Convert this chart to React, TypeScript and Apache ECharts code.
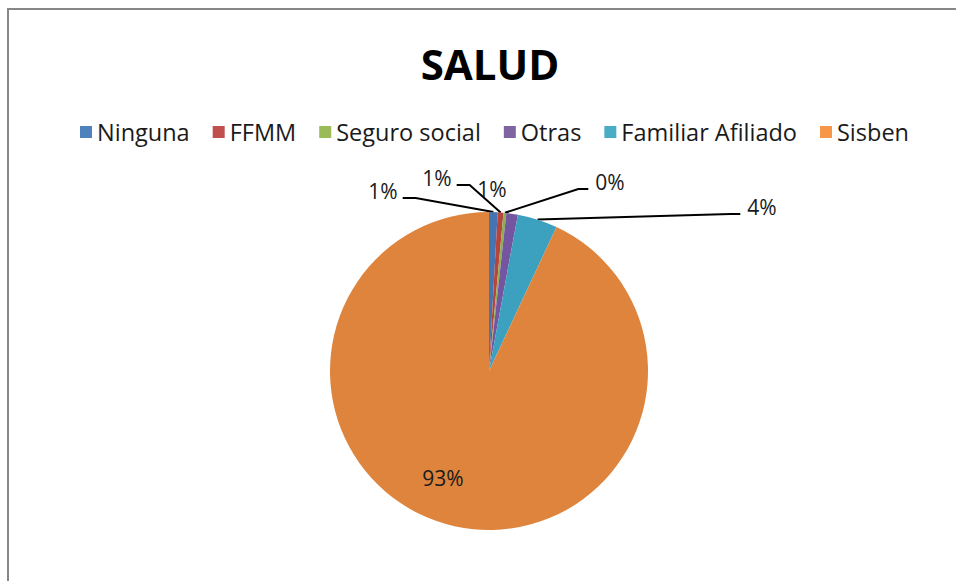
import React, { useEffect, useRef } from "react";
import * as echarts from "echarts";

const categories = ["Ninguna", "FFMM", "Seguro social", "Otras", "Familiar Afiliado", "Sisben"];
const counts = [3, 2, 1, 4, 14, 320];
const sliceColors = ["#4674B0", "#B4463F", "#8DB04C", "#7455A0", "#3CA0BF", "#DE843D"];
const legendColors = ["#4F81BD", "#C0504D", "#9BBB59", "#8064A2", "#4BACC6", "#F79646"];
const titleText = "SALUD";

// label placement (layout only)
const LABEL_POS: number[][] = [
  [383, 191],
  [437, 178],
  [610, 182],
  [492, 189],
  [762, 207],
  [443, 478],
];
const SHOW_LEADER = [true, true, true, false, true, false];

const FONT = '"Open Sans", "Noto Sans", sans-serif';

export default function App() {
  const ref = useRef<HTMLDivElement>(null);
  useEffect(() => {
    if (!ref.current) return;
    const chart = echarts.init(ref.current, undefined, { renderer: "svg" });
    const data = categories.map((name, i) => ({
      name,
      value: counts[i],
      itemStyle: { color: sliceColors[i] },
      labelLine: { show: SHOW_LEADER[i] },
    }));
    chart.setOption({
      animation: false,
      backgroundColor: "#ffffff",
      graphic: [
        {
          type: "line",
          shape: { x1: 8, y1: 9, x2: 956, y2: 9 },
          style: { stroke: "#878787", lineWidth: 2 },
        },
        {
          type: "line",
          shape: { x1: 8, y1: 8, x2: 8, y2: 581 },
          style: { stroke: "#878787", lineWidth: 2 },
        },
        {
          type: "text",
          x: 490,
          y: 63,
          style: {
            text: titleText,
            font: `bold 42px ${FONT}`,
            fill: "#000000",
            textAlign: "center",
            textVerticalAlign: "middle",
          },
        },
      ],
      legend: {
        left: 75,
        top: 115,
        icon: "rect",
        itemWidth: 12,
        itemHeight: 12,
        itemGap: 23,
        textStyle: { fontSize: 23.5, fontFamily: FONT, color: "#1a1a1a" },
        data: categories.map((name, i) => ({ name, itemStyle: { color: legendColors[i] } })),
      },
      series: [
        {
          type: "pie",
          center: [489, 371],
          radius: 159,
          startAngle: 90,
          clockwise: true,
          avoidLabelOverlap: false,
          data,
          itemStyle: { borderWidth: 0 },
          label: {
            show: true,
            position: "outside",
            fontSize: 21,
            fontFamily: FONT,
            color: "#1a1a1a",
            formatter: (p: any) => Math.round(p.percent) + "%",
          },
          labelLine: {
            show: true,
            length: 10,
            length2: 10,
            lineStyle: { color: "#000000", width: 2 },
          },
          labelLayout: (params: any) => {
            const i = params.dataIndex;
            const [x, y] = LABEL_POS[i];
            const w = params.labelRect.width;
            const res: any = { x, y, align: "center", verticalAlign: "middle" };
            const pts = params.labelLinePoints;
            if (pts && SHOW_LEADER[i]) {
              const a = pts[0];
              const right = a[0] > x;
              const sx = right ? x + w / 2 + 5 : x - w / 2 - 7;
              const sy = y + 7;
              const ex = right ? sx + 13 : sx - 10;
              res.labelLinePoints = [a, [ex, sy], [sx, sy]];
            }
            return res;
          },
        },
      ],
    });
    return () => chart.dispose();
  }, []);
  return (
    <div
      ref={ref}
      style={{ position: "fixed", left: 0, top: 0, width: 956, height: 581, background: "#fff" }}
    />
  );
}
